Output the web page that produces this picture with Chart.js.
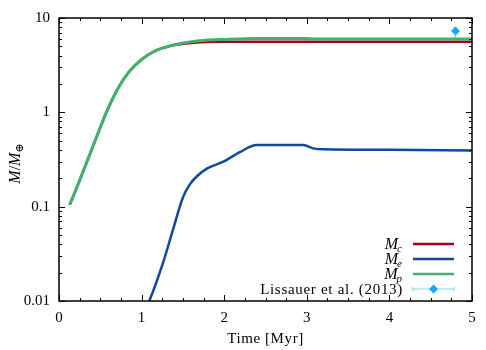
<!DOCTYPE html>
<html>
<head>
<meta charset="utf-8">
<script src="https://cdn.jsdelivr.net/npm/chart.js@4.4.0/dist/chart.umd.min.js"></script>
<style>
  html, body { margin: 0; padding: 0; background: #fff; }
</style>
</head>
<body>
<canvas id="chart" width="486" height="350"></canvas>
<script>
// planet mass (Mp) and core mass (Mc), same time grid
const timeP = [0.13, 0.25, 0.36, 0.48, 0.58, 0.72, 0.84, 1.0, 1.16, 1.36, 1.57, 1.77, 2.0, 2.4, 2.96, 3.1, 4.0, 5.0];
const massP = [0.105, 0.19, 0.335, 0.625, 1.03, 1.83, 2.64, 3.63, 4.47, 5.13, 5.55, 5.8, 5.92, 6.05, 6.05, 6.0, 5.99, 5.98];
const massC = [0.105, 0.19, 0.335, 0.625, 1.03, 1.83, 2.64, 3.63, 4.46, 5.08, 5.39, 5.55, 5.6, 5.6, 5.6, 5.59, 5.59, 5.59];

// envelope mass (Me)
const timeE = [1.05, 1.10, 1.26, 1.38, 1.5, 1.58, 1.67, 1.79, 1.99, 2.19, 2.39, 2.96, 3.08, 3.2, 4.0, 5.0];
const massE = [0.0085, 0.0104, 0.0255, 0.057, 0.125, 0.17, 0.21, 0.253, 0.30, 0.379, 0.45, 0.45, 0.415, 0.405, 0.40, 0.395];

// Lissauer et al. (2013)
const obsTime = [4.8];
const obsMass = [7.3];
const obsLow = [5.9];
const obsHigh = [7.9];

const xTicks = [0, 1, 2, 3, 4, 5];
const yTicks = [0.01, 0.1, 1, 10];

const RED = '#a5001c';
const BLUE = '#0b4a9c';
const GREEN = '#3fb36e';
const OBS = '#14a8ff';
const OBS_ERR = '#8fd4ff';
const FONT = "'Liberation Serif', 'DejaVu Serif', serif";

function pts(xs, ys) {
    return xs.map((x, i) => ({ x: x, y: ys[i] }));
}

// inward ticks + frame + axis titles
const framePlugin = {
    id: 'frame',
    afterDraw(chart) {
        const ctx = chart.ctx;
        const { left, right, top, bottom } = chart.chartArea;
        const xs = chart.scales.x, ys = chart.scales.y;
        ctx.save();
        ctx.strokeStyle = '#000';
        ctx.lineWidth = 1;
        ctx.beginPath();
        for (let v = 0; v <= 5.0001; v += 0.25) {
            const px = Math.round(xs.getPixelForValue(v)) + 0.5;
            const len = Math.abs(v - Math.round(v)) < 1e-6 ? 6 : 3;
            ctx.moveTo(px, bottom); ctx.lineTo(px, bottom - len);
            ctx.moveTo(px, top); ctx.lineTo(px, top + len);
        }
        for (let d = -2; d <= 0; d++) {
            for (let m = 1; m <= 10; m++) {
                const v = m * Math.pow(10, d);
                const py = Math.round(ys.getPixelForValue(v)) + 0.5;
                const len = (m === 1 || m === 10) ? 6 : 3;
                ctx.moveTo(left, py); ctx.lineTo(left + len, py);
                ctx.moveTo(right, py); ctx.lineTo(right - len, py);
            }
        }
        ctx.stroke();
        ctx.lineWidth = 1.5;
        ctx.strokeRect(left, top, right - left, bottom - top);

        // axis titles
        ctx.fillStyle = '#000';
        ctx.textBaseline = 'alphabetic';
        ctx.font = '15px ' + FONT;
        ctx.letterSpacing = '0.6px';
        ctx.textAlign = 'center';
        ctx.fillText('Time [Myr]', (left + right) / 2, 343);
        ctx.letterSpacing = '0px';

        ctx.translate(20, (top + bottom) / 2 + 4);
        ctx.rotate(-Math.PI / 2);
        const parts = [
            { t: 'M', f: 'italic 16px ' + FONT, dy: 0 },
            { t: '/', f: '16px ' + FONT, dy: 0 },
            { t: 'M', f: 'italic 16px ' + FONT, dy: 0 },
            { t: '\u2295', f: '11px ' + FONT, dy: 3 }
        ];
        let w = 0;
        parts.forEach(p => { ctx.font = p.f; w += ctx.measureText(p.t).width; });
        let x = -w / 2;
        ctx.textAlign = 'left';
        parts.forEach(p => {
            ctx.font = p.f;
            ctx.fillText(p.t, x, p.dy);
            x += ctx.measureText(p.t).width;
        });
        ctx.restore();
    }
};

// vertical error bar under the observation point
const errorBarPlugin = {
    id: 'errbar',
    beforeDatasetsDraw(chart) {
        const ctx = chart.ctx;
        const xs = chart.scales.x, ys = chart.scales.y;
        ctx.save();
        ctx.strokeStyle = OBS_ERR;
        ctx.lineWidth = 1.2;
        obsTime.forEach((t, i) => {
            const px = xs.getPixelForValue(t);
            const y1 = ys.getPixelForValue(obsLow[i]);
            const y2 = ys.getPixelForValue(obsHigh[i]);
            ctx.beginPath();
            ctx.moveTo(px, y1); ctx.lineTo(px, y2);
            ctx.moveTo(px - 2, y1); ctx.lineTo(px + 2, y1);
            ctx.moveTo(px - 2, y2); ctx.lineTo(px + 2, y2);
            ctx.stroke();
        });
        ctx.restore();
    }
};

// legend inside the plot, text on the left, sample on the right
const legendPlugin = {
    id: 'innerLegend',
    afterDraw(chart) {
        const ctx = chart.ctx;
        const { right, bottom } = chart.chartArea;
        const x2 = right - 18, x1 = x2 - 41, textX = x1 - 10;
        const rows = [
            { main: 'M', sub: 'c', color: RED },
            { main: 'M', sub: 'e', color: BLUE },
            { main: 'M', sub: 'p', color: GREEN },
            { text: 'Lissauer et al. (2013)', obs: true }
        ];
        ctx.save();
        ctx.textBaseline = 'alphabetic';
        ctx.textAlign = 'left';
        ctx.fillStyle = '#000';
        rows.forEach((r, i) => {
            const cy = bottom - 12 - (rows.length - 1 - i) * 15;
            const base = cy + 5;
            if (r.obs) {
                ctx.font = '15px ' + FONT;
                ctx.letterSpacing = '0.7px';
                const w = ctx.measureText(r.text).width;
                ctx.fillText(r.text, textX - w, base);
                ctx.letterSpacing = '0px';
                ctx.strokeStyle = OBS_ERR;
                ctx.lineWidth = 1.2;
                ctx.beginPath();
                ctx.moveTo(x1, cy); ctx.lineTo(x2, cy);
                ctx.moveTo(x1, cy - 2); ctx.lineTo(x1, cy + 2);
                ctx.moveTo(x2, cy - 2); ctx.lineTo(x2, cy + 2);
                ctx.stroke();
                const mx = (x1 + x2) / 2, s = 4.5;
                ctx.fillStyle = OBS;
                ctx.beginPath();
                ctx.moveTo(mx, cy - s); ctx.lineTo(mx + s, cy);
                ctx.lineTo(mx, cy + s); ctx.lineTo(mx - s, cy);
                ctx.closePath();
                ctx.fill();
                ctx.fillStyle = '#000';
            } else {
                ctx.font = 'italic 16px ' + FONT;
                const wm = ctx.measureText(r.main).width;
                ctx.font = 'italic 11px ' + FONT;
                const ws = ctx.measureText(r.sub).width;
                const sx = textX - wm - ws;
                ctx.font = 'italic 16px ' + FONT;
                ctx.fillText(r.main, sx, base);
                ctx.font = 'italic 11px ' + FONT;
                ctx.fillText(r.sub, sx + wm - 1, base + 3);
                ctx.strokeStyle = r.color;
                ctx.lineWidth = 2.5;
                ctx.beginPath();
                ctx.moveTo(x1, cy); ctx.lineTo(x2, cy);
                ctx.stroke();
            }
        });
        ctx.restore();
    }
};

const ctx = document.getElementById('chart').getContext('2d');

const massChart = new Chart(ctx, {
    type: 'line',
    data: {
        datasets: [
            {
                label: 'Lissauer et al. (2013)',
                type: 'scatter',
                data: pts(obsTime, obsMass),
                pointStyle: 'rectRot',
                pointRadius: 4.5,
                backgroundColor: OBS,
                borderColor: OBS,
                borderWidth: 0,
                order: 0
            },
            {
                label: 'Mp',
                data: pts(timeP, massP),
                borderColor: GREEN,
                borderWidth: 3,
                pointRadius: 0,
                cubicInterpolationMode: 'monotone',
                order: 1
            },
            {
                label: 'Me',
                data: pts(timeE, massE),
                borderColor: BLUE,
                borderWidth: 2.5,
                pointRadius: 0,
                cubicInterpolationMode: 'monotone',
                order: 2
            },
            {
                label: 'Mc',
                data: pts(timeP, massC),
                borderColor: RED,
                borderWidth: 2.5,
                pointRadius: 0,
                cubicInterpolationMode: 'monotone',
                order: 3
            }
        ]
    },
    options: {
        responsive: false,
        animation: false,
        devicePixelRatio: 1,
        layout: { padding: { top: 18, right: 14, left: 0, bottom: 0 } },
        plugins: {
            legend: { display: false },
            tooltip: { enabled: false }
        },
        scales: {
            x: {
                type: 'linear',
                min: 0,
                max: 5,
                afterBuildTicks: s => { s.ticks = xTicks.map(v => ({ value: v })); },
                afterFit: s => { s.height = 49; },
                grid: { display: false, drawTicks: false },
                border: { display: false },
                ticks: {
                    color: '#000',
                    padding: 8,
                    maxRotation: 0,
                    font: { family: FONT, size: 15 }
                }
            },
            y: {
                type: 'logarithmic',
                min: 0.01,
                max: 10,
                afterBuildTicks: s => { s.ticks = yTicks.map(v => ({ value: v })); },
                afterFit: s => { s.width = 59; },
                grid: { display: false, drawTicks: false },
                border: { display: false },
                ticks: {
                    color: '#000',
                    padding: 9,
                    font: { family: FONT, size: 15 },
                    callback: v => String(v)
                }
            }
        }
    },
    plugins: [errorBarPlugin, framePlugin, legendPlugin]
});
</script>
</body>
</html>
